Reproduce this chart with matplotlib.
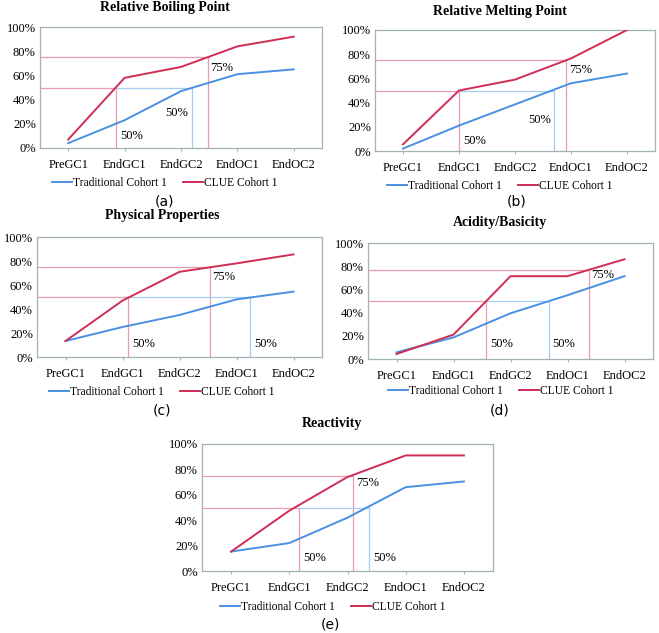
import matplotlib.pyplot as plt
import numpy as np

# categories shared by all panels
stages = ["PreGC1", "EndGC1", "EndGC2", "EndOC1", "EndOC2"]
titles = ["Relative Boiling Point", "Relative Melting Point", "Physical Properties",
          "Acidity/Basicity", "Reactivity"]
letters = ["(a)", "(b)", "(c)", "(d)", "(e)"]

# percent of students
traditional = [
    [4, 23, 47, 61, 65],
    [2, 21, 38.5, 56, 64],
    [13.3, 25, 35, 48, 54.5],
    [5.7, 18.6, 39.4, 55, 71.4],
    [15.3, 22, 42, 66, 70.5],
]
clue = [
    [7, 58, 67, 84, 92],
    [5.5, 50, 59, 76.5, 100],
    [13.3, 47, 71, 78, 85.5],
    [4.3, 21, 71.4, 71.4, 86],
    [15.3, 47.5, 74, 91, 91],
]

# where each cohort crosses 50% / 75% (in category units)
clue_50 = [0.85, 1.0, 1.1, 1.57, 1.17]
trad_50 = [2.2, 2.7, 3.24, 2.67, 2.37]
clue_75 = [2.47, 2.91, 2.53, 3.37, 2.1]
level_75 = [75, 75, 75, 76.5, 75]

# axes boxes in pixels: left, right, top, bottom
W, H = 659, 633
boxes = [(40, 322, 27, 148), (375, 655, 30, 151), (37, 322, 237, 357),
         (368, 653, 243, 359), (202, 493, 444, 571)]
title_pos = [(165, 7), (500, 11), (162, 216), (500, 222), (332, 424)]
letter_pos = [(165, 201), (517, 201), (162, 410), (500, 410), (330, 625)]
legend_pos = [(165, 183), (500, 186), (162, 392), (501, 391), (333, 607)]

blue = "#4a90e2"
red = "#d02d55"
pink = "#eb9ab2"
light_blue = "#a6cdf2"
frame = "#a3b3b3"

serif = "Liberation Serif"

fig = plt.figure(figsize=(W / 100, H / 100), dpi=100)

for i in range(5):
    l, r, t, b = boxes[i]
    ax = fig.add_axes([l / W, 1 - b / H, (r - l) / W, (b - t) / H])
    x = np.arange(len(stages))

    # helper lines
    ax.plot([-0.5, clue_75[i]], [level_75[i], level_75[i]], color=pink, lw=0.9, zorder=1)
    ax.plot([clue_75[i], clue_75[i]], [0, level_75[i]], color=pink, lw=0.9, zorder=1)
    ax.plot([-0.5, clue_50[i]], [50, 50], color=pink, lw=0.9, zorder=1)
    ax.plot([clue_50[i], clue_50[i]], [0, 50], color=pink, lw=0.9, zorder=1)
    ax.plot([clue_50[i], trad_50[i]], [50, 50], color=light_blue, lw=0.9, zorder=1)
    ax.plot([trad_50[i], trad_50[i]], [0, 50], color=light_blue, lw=0.9, zorder=1)

    ax.plot(x, traditional[i], color=blue, lw=1.4, label="Traditional Cohort 1", zorder=3)
    ax.plot(x, clue[i], color=red, lw=1.4, label="CLUE Cohort 1", zorder=3)

    # percentage labels
    if i == 0:
        ax.text(clue_50[i] + 0.07, 10, "50%", fontsize=9, family=serif, va="center")
        ax.text(trad_50[i] - 0.07, 29, "50%", fontsize=9, family=serif, va="center", ha="right")
    elif i == 1:
        ax.text(clue_50[i] + 0.07, 8, "50%", fontsize=9, family=serif, va="center")
        ax.text(trad_50[i] - 0.05, 26, "50%", fontsize=9, family=serif, va="center", ha="right")
    else:
        ax.text(clue_50[i] + 0.07, [0, 0, 10.5, 13, 10.5][i], "50%", fontsize=9, family=serif, va="center")
        ax.text(trad_50[i] + 0.07, [0, 0, 10.5, 13, 10.5][i], "50%", fontsize=9, family=serif, va="center")
    ax.text(clue_75[i] + 0.05, [66, 67, 67, 72, 69][i], "75%", fontsize=9, family=serif, va="center")

    ax.set_xlim(-0.5, 4.5)
    ax.set_ylim(0, 100)
    ax.set_xticks(x)
    ax.set_xticklabels(stages, family=serif, fontsize=9)
    ax.set_yticks(range(0, 101, 20))
    ax.set_yticklabels([f"{v}%" for v in range(0, 101, 20)], family=serif, fontsize=9)
    ax.tick_params(axis="x", length=2, color=frame, pad=6)
    ax.tick_params(axis="y", length=0, pad=3)
    for s in ax.spines.values():
        s.set_color(frame)
        s.set_linewidth(0.9)

    fig.text(title_pos[i][0] / W, 1 - title_pos[i][1] / H, titles[i], ha="center", va="center",
             family=serif, fontsize=10, fontweight="bold")

    handles, labels = ax.get_legend_handles_labels()
    fig.legend(handles, labels, loc="center", ncol=2, frameon=False,
               bbox_to_anchor=(legend_pos[i][0] / W, 1 - legend_pos[i][1] / H),
               prop={"family": serif, "size": 8.3}, handlelength=1.7,
               handletextpad=0.1, columnspacing=1.4)

    fig.text(letter_pos[i][0] / W, 1 - letter_pos[i][1] / H, letters[i],
             ha="center", va="center", fontsize=10, family="DejaVu Sans")

fig.savefig("out.png", dpi=100)
